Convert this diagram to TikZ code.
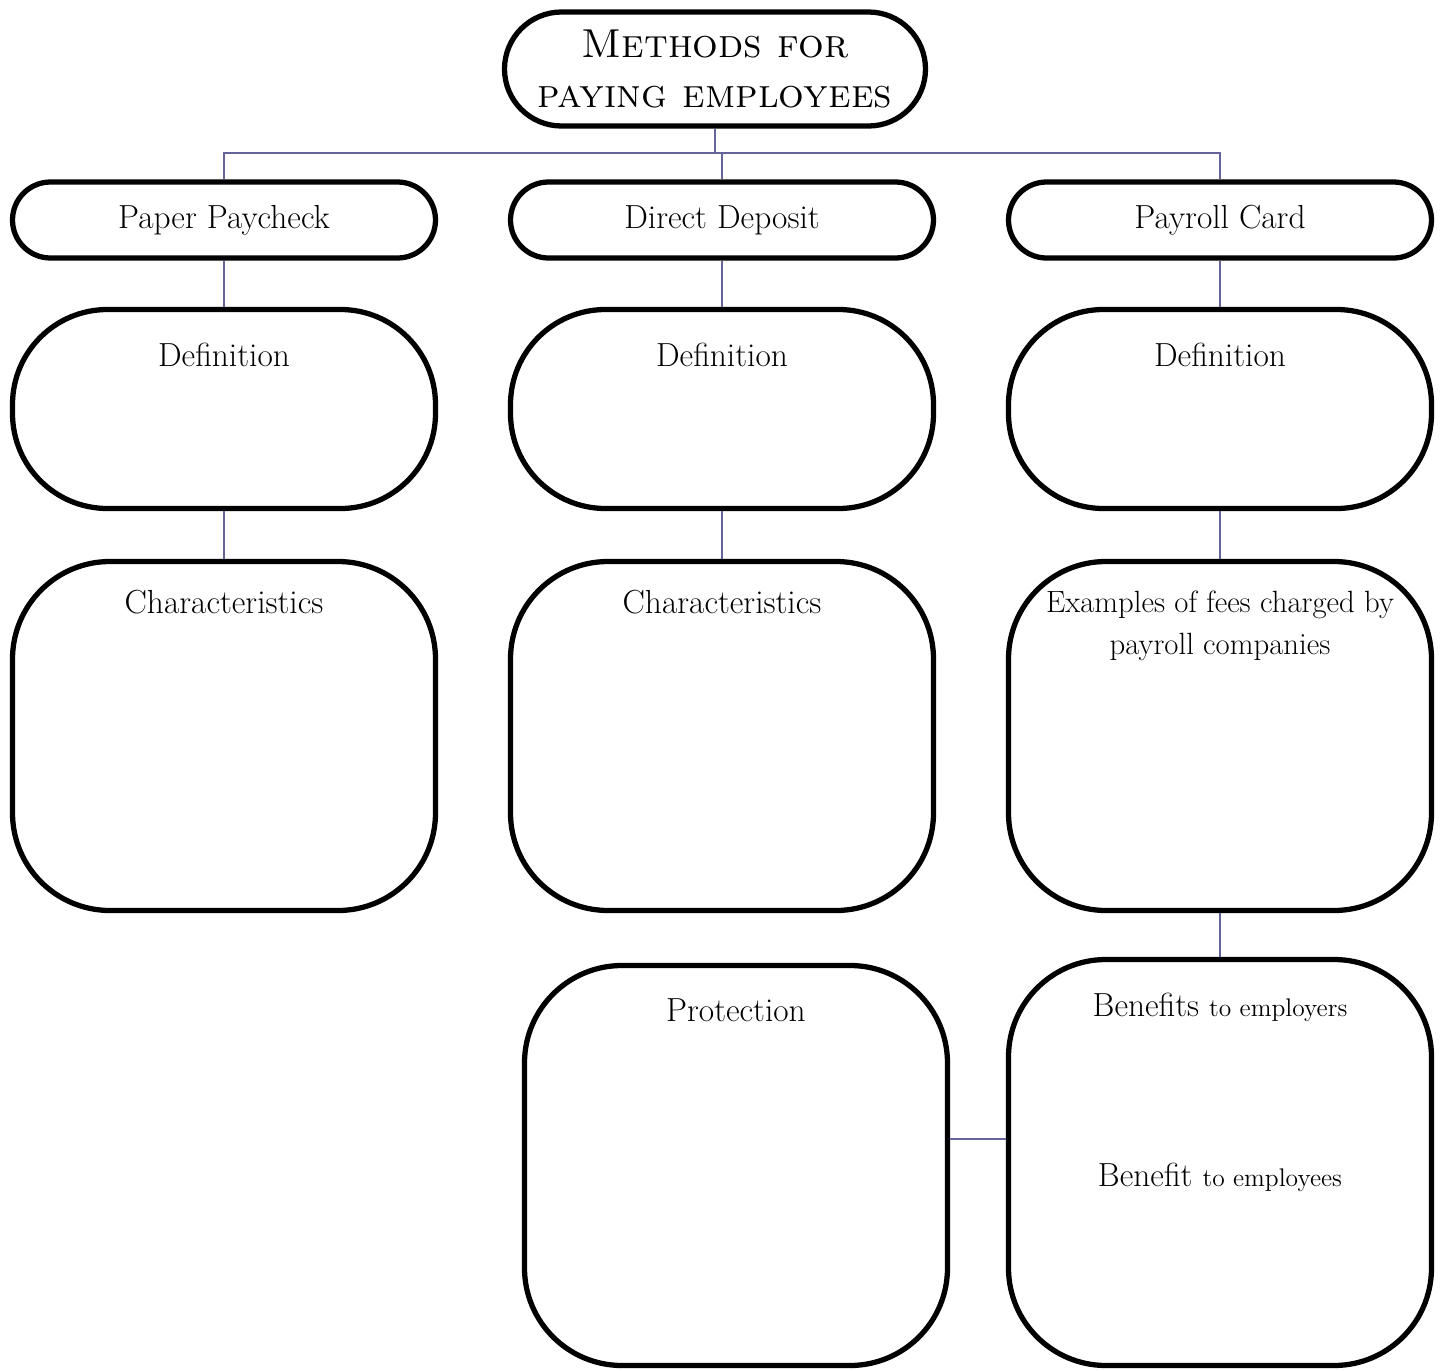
\documentclass[tikz,border=0pt]{standalone}
\usetikzlibrary{positioning}
\definecolor{linkblue}{RGB}{100,100,155}

\begin{document}
\begin{tikzpicture}[
    box/.style={draw, line width=3pt, minimum width=8.46cm, inner sep=0pt},
    link/.style={draw=linkblue, line width=1.1pt},
    txt/.style={font=\fontsize{19}{22}\selectfont},
    every label/.style={txt, anchor=north, inner sep=0pt, align=center}
  ]
  \useasboundingbox (0,0) rectangle (28.88,-27.42);

  % top
  \node[box, minimum width=8.42cm, minimum height=2.28cm, rounded corners=1.14cm,
        font=\fontsize{23}{28}\selectfont\scshape, align=center]
    (title) at (14.30,-1.38) {Methods for\\paying employees};

  % methods
  \node[box, txt, minimum height=1.52cm, rounded corners=0.76cm] (paper)   at (4.48,-4.40)  {Paper Paycheck};
  \node[box, txt, minimum height=1.52cm, rounded corners=0.76cm] (direct)  at (14.44,-4.40) {Direct Deposit};
  \node[box, txt, minimum height=1.52cm, rounded corners=0.76cm] (payroll) at (24.40,-4.40) {Payroll Card};

  % definitions
  \node[box, minimum height=3.98cm, rounded corners=1.9cm,
        label={[yshift=-0.72cm]north:Definition}] (paperdef)   at (4.48,-8.18)  {};
  \node[box, minimum height=3.98cm, rounded corners=1.9cm,
        label={[yshift=-0.72cm]north:Definition}] (directdef)  at (14.44,-8.18) {};
  \node[box, minimum height=3.98cm, rounded corners=1.9cm,
        label={[yshift=-0.72cm]north:Definition}] (payrolldef) at (24.40,-8.18) {};

  % characteristics
  \node[box, minimum height=6.98cm, rounded corners=1.95cm,
        label={[yshift=-0.62cm]north:Characteristics}] (paperchar)  at (4.48,-14.72)  {};
  \node[box, minimum height=6.98cm, rounded corners=1.95cm,
        label={[yshift=-0.62cm]north:Characteristics}] (directchar) at (14.44,-14.72) {};
  \node[box, minimum height=6.98cm, rounded corners=1.95cm,
        label={[yshift=-0.64cm, font=\fontsize{17.5}{21}\selectfont]north:{Examples of fees charged by\\[3pt]payroll companies}}] (fees) at (24.40,-14.72) {};

  % bottom row
  \node[box, minimum height=8.00cm, rounded corners=1.95cm,
        label={[yshift=-0.70cm]north:Protection}] (protect) at (14.72,-23.31) {};
  \node[box, minimum height=8.12cm, rounded corners=1.95cm,
        label={[yshift=-0.72cm]north:{Benefits {\fontsize{14.5}{17}\selectfont to employers}}},
        label={[yshift=-4.12cm]north:{Benefit {\fontsize{14.5}{17}\selectfont to employees}}}] (benefit) at (24.40,-23.25) {};

  % connectors
  \coordinate (hub) at ([yshift=-0.48cm]title.south);
  \draw[link] (title.south) -- (hub) -| (paper.north);
  \draw[link] (hub) -| (direct.north);
  \draw[link] (hub) -| (payroll.north);
  \draw[link] (paper) -- (paperdef) (paperdef) -- (paperchar);
  \draw[link] (direct) -- (directdef) (directdef) -- (directchar);
  \draw[link] (payroll) -- (payrolldef) (payrolldef) -- (fees) (fees) -- (benefit);
  \coordinate (side) at ([yshift=0.53cm]protect.east);
  \draw[link] (side) -- (side -| benefit.west);
\end{tikzpicture}
\end{document}
